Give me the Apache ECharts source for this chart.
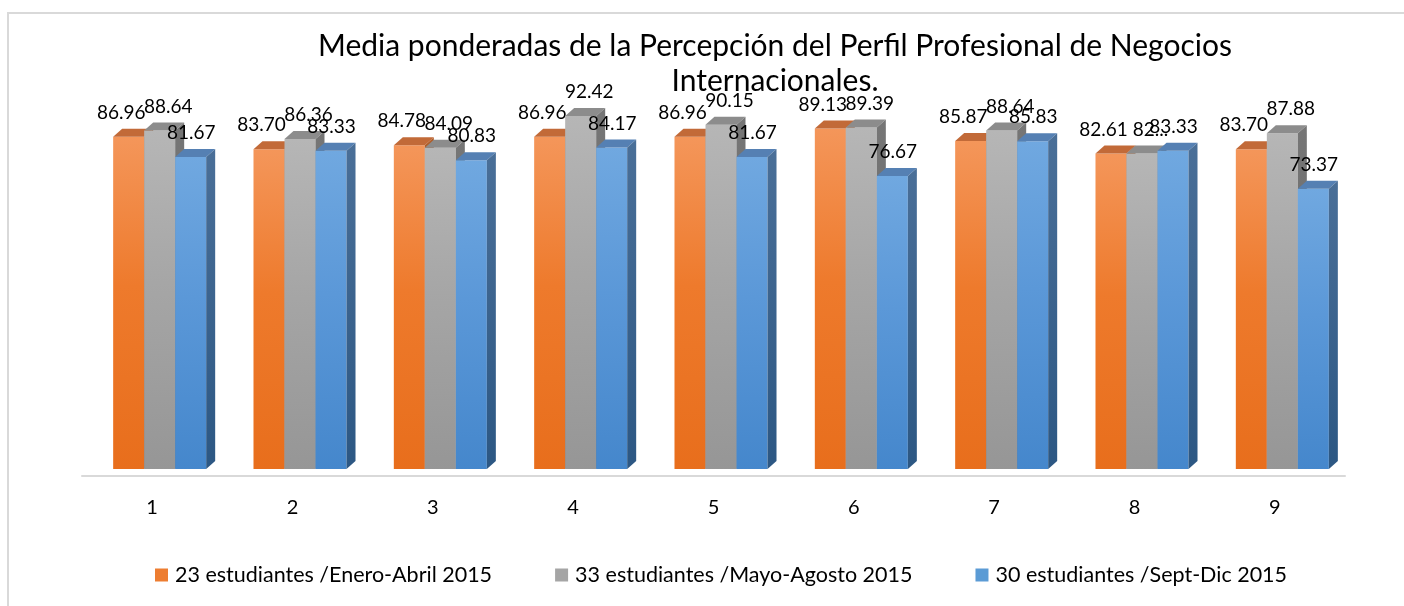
<!DOCTYPE html>
<html>
<head>
<meta charset="utf-8">
<script src="https://cdn.jsdelivr.net/npm/echarts@6/dist/echarts.min.js"></script>
<style>
  html, body { margin: 0; padding: 0; background: #fff; }
  #chart { width: 1404px; height: 606px; }
</style>
</head>
<body>
<div id="chart"></div>
<script>
// Categories and the three groups of weighted means
const categories = ['1', '2', '3', '4', '5', '6', '7', '8', '9'];
const seriesNames = [
  '23 estudiantes /Enero-Abril 2015',
  '33 estudiantes /Mayo-Agosto 2015',
  '30 estudiantes /Sept-Dic 2015'
];
const eneroAbril = [86.96, 83.70, 84.78, 86.96, 86.96, 89.13, 85.87, 82.61, 83.70];
const mayoAgosto = [88.64, 86.36, 84.09, 92.42, 90.15, 89.39, 88.64, 82.58, 87.88];
const septDic    = [81.67, 83.33, 80.83, 84.17, 81.67, 76.67, 85.83, 83.33, 73.37];
// Label text that is shown clipped ("82...") where it collides with a neighbour
const clippedLabels = [{}, { 7: '82...' }, {}];

const palettes = [
  { legend: '#ED7D31', front: ['#F4965A', '#EE7A2C', '#E86E1C'], top: '#C26A38', side: ['#B05E2A', '#9A4F1E'] },
  { legend: '#A5A5A5', front: ['#B6B6B6', '#A6A6A6', '#969696'], top: '#8C8C8C', side: ['#767676', '#666666'] },
  { legend: '#5B9BD5', front: ['#70A8E0', '#5B98D8', '#4587CC'], top: '#5580B3', side: ['#4A6F98', '#2C5783'] }
];

// Geometry of a cluster relative to the category band (fractions of band width)
const BAR_FRAC = 31 / 140.3;
const START_FRAC = -39 / 140.3;
const LABEL_OFF = [-31, 16, 39];
const DEPTH_X = 9, DEPTH_Y = -8;

function makeRenderer(si) {
  const pal = palettes[si];
  return function (params, api) {
    const ci = api.value(0);
    const v = api.value(1);
    const base = api.coord([ci, 0]);
    const top = api.coord([ci, v]);
    const band = api.size([1, 0])[0];
    const w = band * BAR_FRAC;
    const x = base[0] + band * START_FRAC + si * w;
    const yT = top[1], yB = base[1];
    const text = clippedLabels[si][ci] !== undefined ? clippedLabels[si][ci] : v.toFixed(2);
    return {
      type: 'group',
      children: [
        {
          type: 'rect',
          shape: { x: x, y: yT, width: w, height: yB - yT },
          style: {
            fill: new echarts.graphic.LinearGradient(0, 0, 0, 1, [
              { offset: 0, color: pal.front[0] },
              { offset: 0.45, color: pal.front[1] },
              { offset: 1, color: pal.front[2] }
            ])
          }
        },
        {
          type: 'polygon',
          shape: { points: [[x, yT], [x + DEPTH_X, yT + DEPTH_Y], [x + w + DEPTH_X, yT + DEPTH_Y], [x + w, yT]] },
          style: { fill: pal.top }
        },
        {
          type: 'polygon',
          shape: { points: [[x + w, yT], [x + w + DEPTH_X, yT + DEPTH_Y], [x + w + DEPTH_X, yB + DEPTH_Y], [x + w, yB]] },
          style: {
            fill: new echarts.graphic.LinearGradient(0, 0, 0, 1, [
              { offset: 0, color: pal.side[0] },
              { offset: 1, color: pal.side[1] }
            ])
          }
        },
        {
          type: 'text',
          z2: 100,
          style: {
            text: text,
            x: base[0] + LABEL_OFF[si],
            y: yT - 24,
            align: 'center',
            verticalAlign: 'middle',
            fill: '#000',
            font: '19px Lato'
          }
        }
      ]
    };
  };
}

const allValues = [eneroAbril, mayoAgosto, septDic];
const series = allValues.map((vals, si) => ({
  name: seriesNames[si],
  type: 'custom',
  renderItem: makeRenderer(si),
  itemStyle: { color: palettes[si].legend },
  encode: { x: 0, y: 1 },
  data: vals.map((v, i) => [i, v]),
  z: 2 + si
}));

const chart = echarts.init(document.getElementById('chart'), null, { renderer: 'canvas' });
chart.setOption({
  animation: false,
  backgroundColor: '#fff',
  textStyle: { fontFamily: 'Lato' },
  title: {
    text: 'Media ponderadas de la Percepción del Perfil Profesional de Negocios\nInternacionales.',
    left: 770,
    top: 24,
    textAlign: 'center',
    textStyle: { fontFamily: 'Lato', fontSize: 30, fontWeight: 'normal', color: '#000', lineHeight: 35 }
  },
  graphic: [{
    type: 'rect',
    shape: { x: 8, y: 13, width: 1420, height: 620 },
    style: { fill: 'none', stroke: '#D9D9D9', lineWidth: 2 },
    silent: true
  }],
  grid: { left: 82, right: 59, top: 87, bottom: 137 },
  xAxis: {
    type: 'category',
    data: categories,
    offset: 7,
    axisLine: { show: true, onZero: false, lineStyle: { color: '#D9D9D9', width: 2 } },
    axisTick: { show: false },
    axisLabel: { margin: 22, fontSize: 20, color: '#000', fontFamily: 'Lato' },
    splitLine: { show: false }
  },
  yAxis: { type: 'value', min: 0, max: 100, show: false },
  legend: {
    left: 150,
    top: 559,
    itemWidth: 13,
    itemHeight: 13,
    itemGap: 63,
    icon: 'rect',
    textStyle: { fontSize: 21.5, color: '#000', fontFamily: 'Lato', padding: [0, 0, 0, 2] },
    data: seriesNames
  },
  series: series
});
</script>
</body>
</html>
